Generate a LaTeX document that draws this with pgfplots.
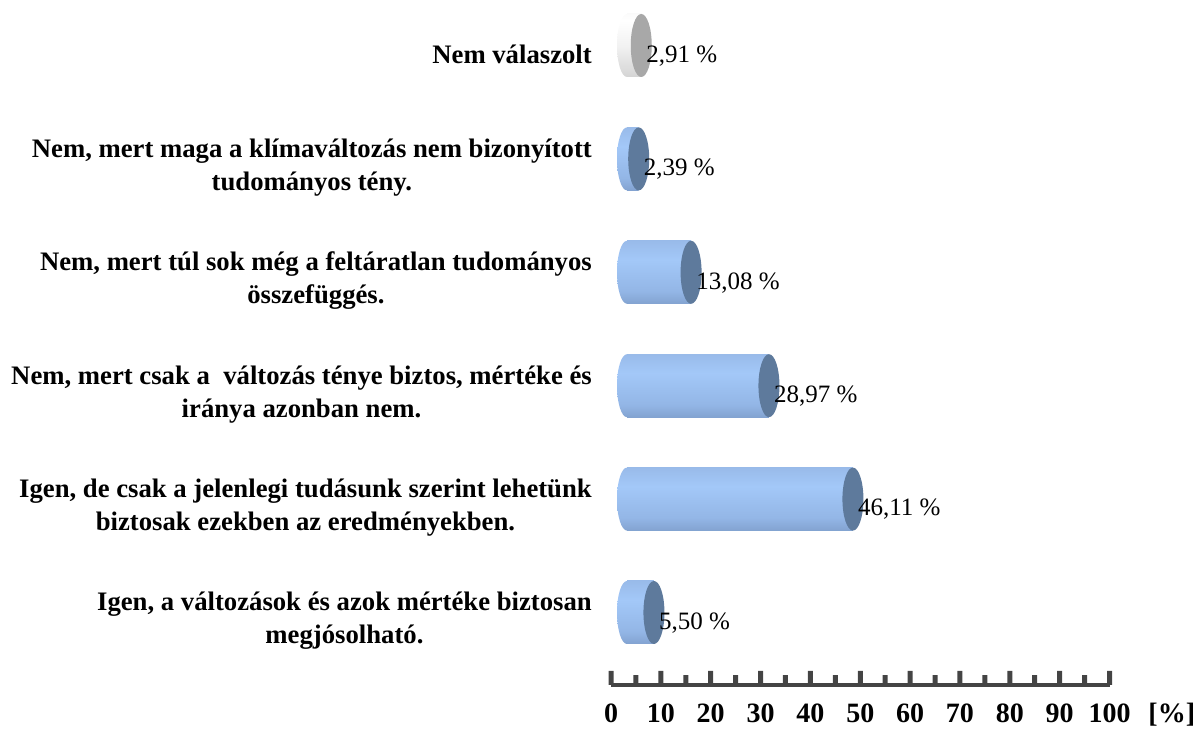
\documentclass[border=0pt]{standalone}
\usepackage{fontspec}
\setmainfont{Liberation Serif}
\usepackage{pgfplots}
\pgfplotsset{compat=1.18}

\definecolor{capblue}{HTML}{5E7A9C}
\definecolor{capgray}{HTML}{A8A8A8}
\definecolor{axisgray}{HTML}{444444}
\definecolor{bA}{HTML}{3F5270}
\definecolor{bB}{HTML}{6A86B0}
\definecolor{bC}{HTML}{93B6E6}
\definecolor{bD}{HTML}{A3C8F8}
\definecolor{bE}{HTML}{92B2E0}
\definecolor{bF}{HTML}{7A95BF}
\definecolor{gA}{HTML}{8C8C8C}
\definecolor{gB}{HTML}{C8C8C8}
\definecolor{gC}{HTML}{F2F2F2}
\definecolor{gD}{HTML}{FFFFFF}
\definecolor{gE}{HTML}{E6E6E6}

\pgfdeclareverticalshading{cylblue}{100bp}{color(0bp)=(bA); color(10bp)=(bB); color(35bp)=(bC); color(60bp)=(bD); color(85bp)=(bE); color(100bp)=(bF)}
\pgfdeclareverticalshading{cylgray}{100bp}{color(0bp)=(gA); color(15bp)=(gB); color(50bp)=(gC); color(70bp)=(gD); color(100bp)=(gE)}

\pgfdeclareplotmark{backblue}{%
  \pgfpathellipse{\pgfpointorigin}{\pgfqpoint{10pt}{0pt}}{\pgfqpoint{0pt}{31.5pt}}%
  \pgfshadepath{cylblue}{0}%
  \pgfusepath{discard}}
\pgfdeclareplotmark{backgray}{%
  \pgfpathellipse{\pgfpointorigin}{\pgfqpoint{10pt}{0pt}}{\pgfqpoint{0pt}{31.5pt}}%
  \pgfshadepath{cylgray}{0}%
  \pgfusepath{discard}}
\pgfdeclareplotmark{frontcap}{%
  \pgfpathellipse{\pgfpointorigin}{\pgfqpoint{10.5pt}{0pt}}{\pgfqpoint{0pt}{31.5pt}}%
  \pgfusepathqfill}

\pgfplotsset{
  cylbody/.style={xbar, bar width=63pt, bar shift=0pt, draw=none, shade, shading=cylblue},
  cylbodygray/.style={xbar, bar width=63pt, bar shift=0pt, draw=none, shade, shading=cylgray},
}

\begin{document}
\begin{tikzpicture}
\useasboundingbox (0,0) rectangle (1203pt,735pt);
% category labels
\begin{axis}[
  at={(611pt,60pt)}, anchor=south west, scale only axis,
  width=498.5pt, height=677.7pt,
  xmin=0, xmax=100, ymin=-0.4762, ymax=5.5,
  axis x line=none, axis y line*=left,
  y axis line style={draw=none},
  ytick style={draw=none},
  major tick length=0pt,
  ytick={0,...,5},
  yticklabels={{Igen, a változások és azok mértéke biztosan\\megjósolható.},
               {Igen, de csak a jelenlegi tudásunk szerint lehetünk\\biztosak ezekben az eredményekben.},
               {Nem, mert csak a~ változás ténye biztos, mértéke és\\iránya azonban nem.},
               {Nem, mert túl sok még a feltáratlan tudományos\\összefüggés.},
               {Nem, mert maga a klímaváltozás nem bizonyított\\tudományos tény.},
               {Nem válaszolt}},
  yticklabel style={font=\fontsize{26.7}{33}\selectfont\bfseries, align=center, anchor=east, inner sep=0pt, xshift=-19pt},
]
\end{axis}
% value scale
\begin{axis}[
  at={(611pt,50pt)}, anchor=south west, scale only axis,
  width=498.5pt, height=14pt,
  xmin=0, xmax=100, ymin=0, ymax=1,
  axis x line*=bottom, axis y line=none,
  x axis line style={draw=none},
  xtick={0,10,...,100}, major tick length=0pt,
  xtick style={draw=none},
  clip=false,
  /pgf/number format/assume math mode=true,
  xticklabel style={font=\fontsize{28}{30}\selectfont\bfseries, inner sep=0pt, anchor=north, yshift=-18.5pt},
  xlabel={[\%]},
  xlabel style={at={(axis description cs:1.125,0)}, anchor=base, inner sep=0pt, yshift=-38pt, font=\fontsize{28}{30}\selectfont\bfseries},
]
\addplot[ybar, bar width=5pt, bar shift=0pt, fill=axisgray, draw=none]
  coordinates {(0,1) (10,1) (20,1) (30,1) (40,1) (50,1) (60,1) (70,1) (80,1) (90,1) (100,1)};
\addplot[ybar, bar width=5pt, bar shift=0pt, fill=axisgray, draw=none]
  coordinates {(5,0.7) (15,0.7) (25,0.7) (35,0.7) (45,0.7) (55,0.7) (65,0.7) (75,0.7) (85,0.7) (95,0.7)};
\addplot[xbar, bar width=4.5pt, bar shift=0pt, fill=axisgray, draw=none]
  coordinates {(100,0)};
\end{axis}
% cylinders
\begin{axis}[
  at={(627pt,68.5pt)}, anchor=south west, scale only axis,
  width=490pt, height=677.7pt,
  xmin=0, xmax=100, ymin=-0.4762, ymax=5.5,
  hide axis, clip=false,
]
\addplot[only marks, mark=backblue] coordinates {(0,0) (0,1) (0,2) (0,3) (0,4)};
\addplot[only marks, mark=backgray] coordinates {(0,5)};
\addplot[cylbody] coordinates {(5.50,0)};
\addplot[cylbody] coordinates {(46.11,1)};
\addplot[cylbody] coordinates {(28.97,2)};
\addplot[cylbody] coordinates {(13.08,3)};
\addplot[cylbody] coordinates {(2.39,4)};
\addplot[cylbodygray] coordinates {(2.91,5)};
\addplot[only marks, mark=frontcap, mark options={fill=capblue, draw=none},
  nodes near coords, point meta=explicit symbolic,
  nodes near coords style={anchor=base west, inner sep=0pt, xshift=5pt, yshift=-16.8pt, font=\fontsize{25}{30}\selectfont, text=black}]
  coordinates {(5.50,0) [5,50 \%] (46.11,1) [46,11 \%] (28.97,2) [28,97 \%] (13.08,3) [13,08 \%] (2.39,4) [2,39 \%]};
\addplot[only marks, mark=frontcap, mark options={fill=capgray, draw=none},
  nodes near coords, point meta=explicit symbolic,
  nodes near coords style={anchor=base west, inner sep=0pt, xshift=5pt, yshift=-16.8pt, font=\fontsize{25}{30}\selectfont, text=black}]
  coordinates {(2.91,5) [2,91 \%]};
\end{axis}
\end{tikzpicture}
\end{document}
